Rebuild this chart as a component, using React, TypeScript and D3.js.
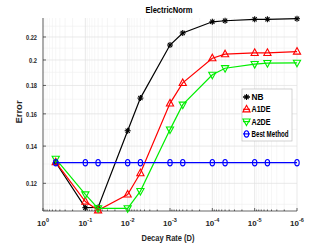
import React from 'react';
import * as d3 from 'd3';

// decay rates (x) and errors per method
const decay = [0.5, 0.1, 0.05, 0.01, 0.005, 0.001, 0.0005, 0.0001, 0.00005, 0.00001, 0.000005, 0.000001];
const nb = [0.1308, 0.1085, 0.1086, 0.1492, 0.1708, 0.2128, 0.2237, 0.2343, 0.2353, 0.2367, 0.2367, 0.2373];
const a1de = [0.1310, 0.1113, 0.1073, 0.1146, 0.1252, 0.1671, 0.1819, 0.2015, 0.2049, 0.2060, 0.2060, 0.2071];
const a2de = [0.1328, 0.1146, 0.1082, 0.1082, 0.1162, 0.1499, 0.1662, 0.1881, 0.1933, 0.1966, 0.1974, 0.1977];
const best = [0.1307, 0.1307, 0.1307, 0.1307, 0.1307, 0.1307, 0.1307, 0.1307, 0.1307, 0.1307, 0.1307, 0.1307];

const yTicks = [0.12, 0.14, 0.16, 0.18, 0.2, 0.22];
const yMinor = [0.11, 0.13, 0.15, 0.17, 0.19, 0.21, 0.23];
const xExp = [0, -1, -2, -3, -4, -5, -6];

const series = [
  { name: 'NB', values: nb, color: '#000000', marker: 'star' },
  { name: 'A1DE', values: a1de, color: '#ff0000', marker: 'up' },
  { name: 'A2DE', values: a2de, color: '#00ee00', marker: 'down' },
  { name: 'Best Method', values: best, color: '#0000ff', marker: 'circle' },
];

const font = '"Liberation Sans Narrow", "Liberation Sans", Arial, sans-serif';

function Marker({ type, x, y, color }: { type: string; x: number; y: number; color: string }) {
  if (type === 'star') {
    const r = 3;
    return (
      <g stroke={color} strokeWidth={1.1}>
        <line x1={x - r} y1={y} x2={x + r} y2={y} />
        <line x1={x} y1={y - r} x2={x} y2={y + r} />
        <line x1={x - r * 0.7} y1={y - r * 0.7} x2={x + r * 0.7} y2={y + r * 0.7} />
        <line x1={x - r * 0.7} y1={y + r * 0.7} x2={x + r * 0.7} y2={y - r * 0.7} />
      </g>
    );
  }
  if (type === 'up') {
    return <path d={`M${x},${y - 4}L${x + 3.6},${y + 2.6}L${x - 3.6},${y + 2.6}Z`} fill="none" stroke={color} strokeWidth={1.1} />;
  }
  if (type === 'down') {
    return <path d={`M${x},${y + 4}L${x + 3.6},${y - 2.6}L${x - 3.6},${y - 2.6}Z`} fill="none" stroke={color} strokeWidth={1.1} />;
  }
  return <ellipse cx={x} cy={y} rx={2.2} ry={3.2} fill="none" stroke={color} strokeWidth={1.1} />;
}

export default function App() {
  const x = d3.scaleLog().domain([1, 1e-6]).range([43, 297]);
  const y = d3.scaleLog().domain([0.107, 0.238]).range([211, 18]);
  const [y0, y1] = y.range();

  const xMinor: number[] = [];
  for (let k = -6; k < 0; k++) for (let m = 2; m <= 9; m++) xMinor.push(m * Math.pow(10, k));

  const line = d3.line<number>()
    .x((_, i) => x(decay[i]))
    .y(d => y(d));

  const legX = 242, legY = 89;
  const legLen = [12, 19, 19, 37];

  return (
    <svg width={327} height={245} style={{ position: 'absolute', left: 0, top: 0, background: '#fff' }} fontFamily={font}>
      {/* grid */}
      <g stroke="#f0f0f0" strokeWidth={0.6}>
        {xMinor.map(v => <line key={'xm' + v} x1={x(v)} x2={x(v)} y1={y0} y2={y1} />)}
        {yMinor.map(v => <line key={'ym' + v} x1={43} x2={297} y1={y(v)} y2={y(v)} />)}
      </g>
      <g stroke="#e0e0e0" strokeWidth={0.7}>
        {xExp.map(e => <line key={'xg' + e} x1={x(Math.pow(10, e))} x2={x(Math.pow(10, e))} y1={y0} y2={y1} />)}
        {yTicks.map(v => <line key={'yg' + v} x1={43} x2={297} y1={y(v)} y2={y(v)} />)}
      </g>
      {/* axes */}
      <g stroke="#262626" strokeWidth={0.7}>
        <line x1={43} x2={297} y1={y0} y2={y0} />
        <line x1={43} x2={43} y1={y0} y2={y1} />
        {xExp.map(e => <line key={'xt' + e} x1={x(Math.pow(10, e))} x2={x(Math.pow(10, e))} y1={y0} y2={y0 - 3} />)}
        {xMinor.map(v => <line key={'xmt' + v} x1={x(v)} x2={x(v)} y1={y0} y2={y0 - 1.5} />)}
        {yTicks.map(v => <line key={'yt' + v} x1={43} x2={46} y1={y(v)} y2={y(v)} />)}
      </g>
      <g fontSize={8} fill="#262626" fontWeight="bold">
        {yTicks.map(v => (
          <text key={'yl' + v} x={37} y={y(v) + 3} textAnchor="end" textLength={String(v).length > 3 ? 11 : 8} lengthAdjust="spacingAndGlyphs">{String(v)}</text>
        ))}
        {xExp.map(e => (
          <text key={'xl' + e} x={x(Math.pow(10, e))} y={226} textAnchor="middle">
            10<tspan fontSize={5.5} dy={-4}>{String(e)}</tspan>
          </text>
        ))}
      </g>
      <text x={169} y={13} textAnchor="middle" fontSize={9.5} fontWeight="bold" fill="#000" textLength={47} lengthAdjust="spacingAndGlyphs">ElectricNorm</text>
      <text x={168} y={241} textAnchor="middle" fontSize={9.5} fontWeight="bold" fill="#262626" textLength={53} lengthAdjust="spacingAndGlyphs">Decay Rate (D)</text>
      <text transform="translate(22,112) rotate(-90)" textAnchor="middle" fontSize={9.5} fontWeight="bold" fill="#262626">Error</text>
      {/* series */}
      {series.map(s => (
        <g key={s.name}>
          <path d={line(s.values) || ''} fill="none" stroke={s.color} strokeWidth={1.2} />
          {s.values.map((v, i) => <Marker key={i} type={s.marker} x={x(decay[i])} y={y(v)} color={s.color} />)}
        </g>
      ))}
      {/* legend */}
      <rect x={legX} y={legY} width={50} height={52} fill="#fff" stroke="#bfbfbf" strokeWidth={0.7} />
      {series.map((s, i) => {
        const ly = legY + 8 + i * 12.3;
        return (
          <g key={'lg' + s.name}>
            <line x1={legX + 1} x2={legX + 8} y1={ly} y2={ly} stroke={s.color} strokeWidth={1.2} />
            <Marker type={s.marker} x={legX + 4.5} y={ly} color={s.color} />
            <text x={legX + 9.5} y={ly + 3} fontSize={8.5} fontWeight="bold" fill="#000" textLength={legLen[i]} lengthAdjust="spacingAndGlyphs">{s.name}</text>
          </g>
        );
      })}
    </svg>
  );
}
